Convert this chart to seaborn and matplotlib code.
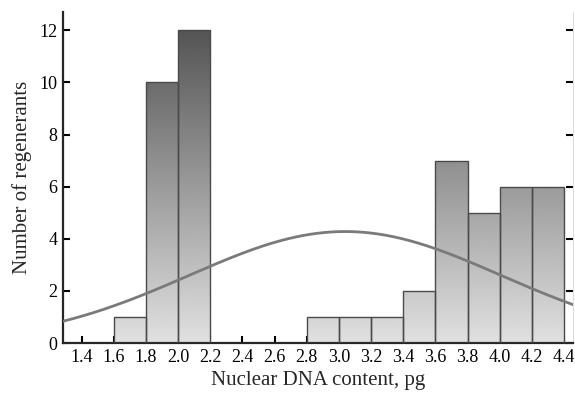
import numpy as np
import pandas as pd
import seaborn as sns
import matplotlib.pyplot as plt

# bin centres (pg) and number of regenerants in each 0.2 pg bin
bin_centers = [1.7, 1.9, 2.1, 2.3, 2.5, 2.7, 2.9, 3.1, 3.3, 3.5, 3.7, 3.9, 4.1, 4.3]
counts = [1, 10, 12, 0, 0, 0, 1, 1, 1, 2, 7, 5, 6, 6]
x_ticks = [1.4, 1.6, 1.8, 2.0, 2.2, 2.4, 2.6, 2.8, 3.0, 3.2, 3.4, 3.6, 3.8, 4.0, 4.2, 4.4]
y_ticks = [0, 2, 4, 6, 8, 10, 12]

df = pd.DataFrame({"dna": bin_centers, "n": counts})

sns.set_style("ticks")
plt.rcParams["font.family"] = ["Liberation Serif", "DejaVu Serif"]

fig = plt.figure(figsize=(5.75, 3.94), dpi=100)
ax = fig.add_axes([0.1096, 0.1294, 0.887, 0.8401])

XMIN, XMAX, YMAX = 1.285, 4.455, 12.7

sns.histplot(data=df, x="dna", weights="n", binwidth=0.2, binrange=(1.6, 4.4),
             edgecolor="#4a4a4a", linewidth=1.0, ax=ax)

# vertical grey gradient inside every bar (dark at top, light at bottom)
grad = np.linspace(0.88, 0.30, 256).reshape(-1, 1)
for p in list(ax.patches):
    if p.get_height() <= 0:
        p.set_visible(False)
        continue
    p.set_facecolor("none")
    p.set_zorder(3)
    im = ax.imshow(grad, cmap="gray", vmin=0, vmax=1, aspect="auto",
                   extent=(XMIN, XMAX, 0, YMAX), origin="lower",
                   interpolation="bilinear", zorder=2)
    im.set_clip_path(p)

# fitted normal curve
vals = np.repeat(bin_centers, counts)
mu, sd = vals.mean(), vals.std()
xs = np.linspace(XMIN, XMAX, 300)
ys = len(vals) * 0.2 / (sd * np.sqrt(2 * np.pi)) * np.exp(-0.5 * ((xs - mu) / sd) ** 2)
sns.lineplot(x=xs, y=ys, color="#7a7a7a", linewidth=2.0, ax=ax, zorder=4)

ax.set_xlim(XMIN, XMAX)
ax.set_ylim(0, YMAX)
ax.set_xticks(x_ticks)
ax.set_xticklabels([f"{t:.1f}" for t in x_ticks])
ax.set_yticks(y_ticks)
ax.tick_params(direction="in", length=5, width=1.5, labelsize=13, colors="black",
               right=True, top=False, pad=4)
ax.spines["top"].set_visible(False)
ax.spines["right"].set_color("#dddddd")
ax.spines["left"].set_linewidth(1.6)
ax.spines["bottom"].set_linewidth(1.6)
ax.set_xlabel("Nuclear DNA content, pg", fontsize=15, labelpad=4)
ax.set_ylabel("Number of regenerants", fontsize=15, labelpad=5)

fig.savefig("out.png", dpi=100)
